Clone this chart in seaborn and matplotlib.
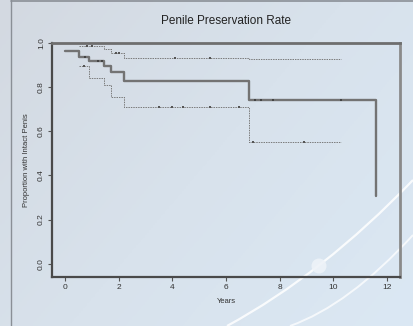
#!/usr/bin/env python3
# Kaplan-Meier style chart: penile preservation rate

import numpy as np
import pandas as pd
import matplotlib
matplotlib.use("Agg")
import matplotlib.pyplot as plt
from matplotlib.path import Path
from matplotlib.patches import PathPatch, Circle
import seaborn as sns

# Data (years, proportion)
all_times = [0, 0.5, 0.9, 1.45, 1.7, 2.2, 6.85, 11.6]
all_surv = [0.963, 0.938, 0.917, 0.894, 0.868, 0.827, 0.742, 0.308]
all_censor_t = [0.75, 1.2, 1.35, 7.1, 7.3, 7.75, 10.3]

upper_times = [0.5, 1.45, 1.7, 2.2, 6.85, 10.3]
upper_surv = [0.988, 0.973, 0.953, 0.934, 0.929, 0.929]
upper_censor_t = [0.8, 1.0, 1.9, 2.0, 4.1, 5.4]

lower_times = [0.5, 0.9, 1.45, 1.7, 2.2, 6.85, 10.3]
lower_surv = [0.894, 0.843, 0.808, 0.756, 0.711, 0.551, 0.551]
lower_censor_t = [0.7, 3.5, 4.0, 4.4, 5.4, 6.5, 7.0, 8.9]

x_ticks = [0, 2, 4, 6, 8, 10, 12]
y_ticks = [0.0, 0.2, 0.4, 0.6, 0.8, 1.0]


def step_value(times, surv, t):
    """Value of a step curve at time t"""
    idx = np.searchsorted(times, t, side="right") - 1
    return surv[max(idx, 0)]


sns.set_style("white")
plt.rcParams["font.family"] = ["Liberation Sans", "DejaVu Sans"]

W, H = 413, 326
fig = plt.figure(figsize=(W / 100, H / 100), dpi=100)
fig.patch.set_facecolor("#d5dbe3")

# Background slide decoration
bg = fig.add_axes([0, 0, 1, 1], zorder=0)
bg.set_xlim(0, W)
bg.set_ylim(H, 0)
bg.axis("off")
grad = np.linspace(0, 1, 200)
gx, gy = np.meshgrid(grad, grad)
bg.imshow(gx * 0.6 + gy * 0.4, extent=[0, W, H, 0], aspect="auto",
          cmap=matplotlib.colors.LinearSegmentedColormap.from_list(
              "bgc", ["#d3d9e1", "#d8e2ec", "#dbe8f4"]), zorder=0)
bg.plot([11, 11], [0, H], color="#8a8f96", lw=1.0, zorder=1)
bg.plot([11, W], [1, 1], color="#8a8f96", lw=1.2, zorder=1)
arc1 = Path([(227, 326), (323, 274), (413, 180)], [Path.MOVETO, Path.CURVE3, Path.CURVE3])
arc2 = Path([(290, 326), (349, 305), (413, 235)], [Path.MOVETO, Path.CURVE3, Path.CURVE3])
bg.add_patch(PathPatch(arc1, fill=False, ec="white", lw=1.6, alpha=0.85, zorder=1))
bg.add_patch(PathPatch(arc2, fill=False, ec="white", lw=1.4, alpha=0.75, zorder=1))
bg.add_patch(Circle((319, 266), 7.5, fc="#eef3f8", ec="none", alpha=0.9, zorder=1))

ax = fig.add_axes([52 / W, 1 - 277 / H, (400 - 52) / W, (277 - 43) / H], zorder=2)
ax.set_facecolor("none")

df_all = pd.DataFrame({"t": all_times, "s": all_surv})
df_up = pd.DataFrame({"t": upper_times, "s": upper_surv})
df_lo = pd.DataFrame({"t": lower_times, "s": lower_surv})

sns.lineplot(data=df_up, x="t", y="s", ax=ax, estimator=None, drawstyle="steps-post",
             color="#7a7a7a", lw=0.7, linestyle=(0, (1.5, 1.0)))
sns.lineplot(data=df_lo, x="t", y="s", ax=ax, estimator=None, drawstyle="steps-post",
             color="#7a7a7a", lw=0.7, linestyle=(0, (1.5, 1.0)))
sns.lineplot(data=df_all, x="t", y="s", ax=ax, estimator=None, drawstyle="steps-post",
             color="#737373", lw=1.7)

# censor marks
for times, surv, ts, c in [(upper_times, upper_surv, upper_censor_t, "#555555"),
                           (lower_times, lower_surv, lower_censor_t, "#555555"),
                           (all_times, all_surv, all_censor_t, "#444444")]:
    ys = [step_value(times, surv, t) for t in ts]
    ax.scatter(ts, ys, marker="s", s=2, color=c, lw=0, zorder=3)

ax.set_xlim(-0.5, 12.5)
ax.set_ylim(-0.06, 1.0)
ax.set_xticks(x_ticks)
ax.set_yticks(y_ticks)
ax.set_xticklabels([str(v) for v in x_ticks], fontsize=6, color="#333333")
ax.set_yticklabels([f"{v:.1f}" for v in y_ticks], fontsize=6, color="#333333",
                   rotation=90, va="center")
ax.tick_params(axis="both", direction="out", length=3, width=0.8, color="#555555", pad=2,
               left=True, bottom=True)
ax.set_xlabel("Years", fontsize=5.5, color="#333333", labelpad=5)
ax.set_ylabel("Proportion with Intact Penis", fontsize=5.5, color="#333333", labelpad=6)
fig.text(226 / W, 1 - 21 / H, "Penile Preservation Rate", ha="center", va="center",
         fontsize=8.5, color="#222222")

ax.spines["left"].set_color("#4a4a4a")
ax.spines["left"].set_linewidth(1.6)
ax.spines["bottom"].set_color("#4a4a4a")
ax.spines["bottom"].set_linewidth(1.6)
ax.spines["top"].set_color("#6e6e6e")
ax.spines["top"].set_linewidth(2.0)
ax.spines["right"].set_color("#8a8a8a")
ax.spines["right"].set_linewidth(2.0)

fig.savefig("out.png", dpi=100)
